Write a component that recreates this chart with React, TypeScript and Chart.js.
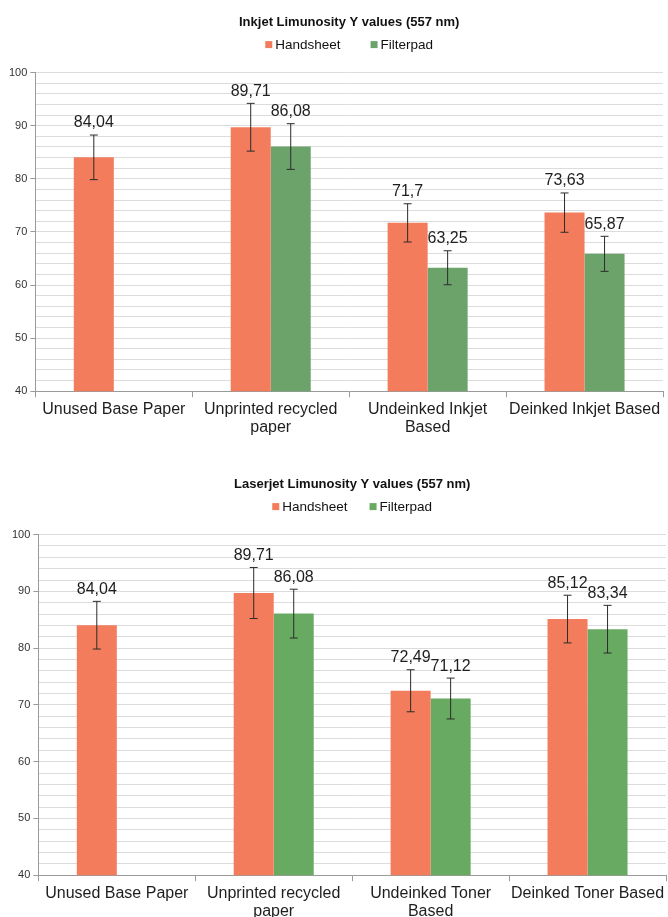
import React, { useEffect, useRef } from "react";
import { Chart, registerables } from "chart.js";

Chart.register(...registerables);

// ---- Inkjet series ----
const inkjetCategories = [
  "Unused Base Paper",
  ["Unprinted recycled", "paper"],
  ["Undeinked Inkjet", "Based"],
  "Deinked Inkjet Based",
];
const inkjetHandsheet = [84.04, 89.71, 71.7, 73.63];
const inkjetFilterpad = [null, 86.08, 63.25, 65.87];
const inkjetHandsheetErr = [4.2, 4.5, 3.6, 3.7];
const inkjetFilterpadErr = [null, 4.3, 3.2, 3.3];

// ---- Laserjet series ----
const laserCategories = [
  "Unused Base Paper",
  ["Unprinted recycled", "paper"],
  ["Undeinked Toner", "Based"],
  "Deinked Toner Based",
];
const laserHandsheet = [84.04, 89.71, 72.49, 85.12];
const laserFilterpad = [null, 86.08, 71.12, 83.34];
const laserHandsheetErr = [4.2, 4.5, 3.7, 4.2];
const laserFilterpadErr = [null, 4.3, 3.6, 4.2];

const seriesNames = ["Handsheet", "Filterpad"];
const yMin = 40;
const yMax = 100;
const yMinorStep = 2;
const yMajorStep = 10;

const ORANGE = "#F27C5C";
const FONT = "'Liberation Sans', Arial, sans-serif";

const fmt = (v: number) => String(v).replace(".", ",");

// Draws symmetric error bars and value labels above each bar
const errorBarPlugin = {
  id: "errorBarsAndLabels",
  afterDatasetsDraw(chart: any) {
    const { ctx } = chart;
    const yScale = chart.scales.y;
    chart.data.datasets.forEach((ds: any, i: number) => {
      const meta = chart.getDatasetMeta(i);
      if (meta.hidden) return;
      meta.data.forEach((bar: any, j: number) => {
        const v = ds.data[j];
        if (v == null) return;
        const e = ds.errors[j] ?? 0;
        const x = bar.x;
        const yTop = yScale.getPixelForValue(v + e);
        const yBot = yScale.getPixelForValue(v - e);
        ctx.save();
        ctx.strokeStyle = "#2b2b2b";
        ctx.lineWidth = 1;
        ctx.beginPath();
        ctx.moveTo(x, yTop);
        ctx.lineTo(x, yBot);
        ctx.moveTo(x - 4, yTop);
        ctx.lineTo(x + 4, yTop);
        ctx.moveTo(x - 4, yBot);
        ctx.lineTo(x + 4, yBot);
        ctx.stroke();
        ctx.fillStyle = "#1e1e1e";
        ctx.font = `16px ${FONT}`;
        ctx.textAlign = "center";
        ctx.textBaseline = "middle";
        ctx.fillText(fmt(v), x, yTop - 12);
        ctx.restore();
      });
    });
  },
};

// Legend row drawn between the title and the plot area
const seriesLegendPlugin = {
  id: "seriesLegend",
  afterDraw(chart: any, _args: any, opts: any) {
    const { ctx, chartArea } = chart;
    const box = 7;
    const textGap = 3;
    ctx.save();
    ctx.font = `13.5px ${FONT}`;
    ctx.textBaseline = "middle";
    ctx.textAlign = "left";
    const items = chart.data.datasets.map((ds: any) => ({
      label: ds.label,
      color: ds.backgroundColor,
      w: box + textGap + ctx.measureText(ds.label).width,
    }));
    const total =
      items.reduce((s: number, it: any) => s + it.w, 0) + opts.gap * (items.length - 1);
    let x = (chartArea.left + chartArea.right) / 2 - total / 2;
    const y = chartArea.top - opts.offset;
    items.forEach((it: any) => {
      ctx.fillStyle = it.color;
      ctx.fillRect(x, y - box / 2, box, box);
      ctx.fillStyle = "#111";
      ctx.fillText(it.label, x + box + textGap, y + 0.5);
      x += it.w + opts.gap;
    });
    ctx.restore();
  },
};

function makeConfig(
  title: string,
  categories: any[],
  hand: (number | null)[],
  filt: (number | null)[],
  handErr: (number | null)[],
  filtErr: (number | null)[],
  green: string,
  legendGap: number,
  pad: { left: number; right: number; bottom: number }
): any {
  return {
    type: "bar",
    data: {
      labels: categories,
      datasets: [
        {
          label: seriesNames[0],
          data: hand,
          errors: handErr,
          backgroundColor: ORANGE,
          borderWidth: 0,
          categoryPercentage: 0.51,
          barPercentage: 1,
        },
        {
          label: seriesNames[1],
          data: filt,
          errors: filtErr,
          backgroundColor: green,
          borderWidth: 0,
          categoryPercentage: 0.51,
          barPercentage: 1,
        },
      ],
    },
    options: {
      responsive: false,
      animation: false,
      layout: { padding: { top: 0, left: pad.left, right: pad.right, bottom: pad.bottom } },
      plugins: {
        title: {
          display: true,
          text: title,
          color: "#111",
          fullSize: false,
          font: { family: FONT, size: 13, weight: "bold" },
          padding: { top: 15, bottom: 42 },
        },
        legend: { display: false },
        seriesLegend: { gap: legendGap, offset: 28 },
        tooltip: { enabled: false },
      },
      scales: {
        x: {
          grid: {
            display: true,
            drawOnChartArea: false,
            drawTicks: true,
            tickLength: 6,
            tickColor: "#9a9a9a",
            offset: true,
          },
          border: { display: true, color: "#9a9a9a", width: 1 },
          ticks: {
            color: "#1e1e1e",
            font: { family: FONT, size: 16, lineHeight: 1.15 },
            maxRotation: 0,
            autoSkip: false,
            padding: 3,
          },
        },
        y: {
          min: yMin,
          max: yMax,
          grid: {
            color: "#dcdcdc",
            lineWidth: 1,
            drawTicks: true,
            tickLength: 5,
            tickColor: (c: any) =>
              c.tick && c.tick.value % yMajorStep === 0 ? "#9a9a9a" : "rgba(0,0,0,0)",
          },
          border: { display: true, color: "#9a9a9a", width: 1 },
          ticks: {
            stepSize: yMinorStep,
            color: "#333",
            font: { family: FONT, size: 11 },
            padding: 3,
            autoSkip: false,
            callback: (v: any) => (Number(v) % yMajorStep === 0 ? String(v) : ""),
          },
        },
      },
    },
    plugins: [errorBarPlugin, seriesLegendPlugin],
  };
}

function BarChart({ config, height }: { config: any; height: number }) {
  const ref = useRef<HTMLCanvasElement>(null);
  useEffect(() => {
    if (!ref.current) return;
    const chart = new Chart(ref.current, config);
    return () => chart.destroy();
  }, [config]);
  return (
    <canvas
      ref={ref}
      width={668}
      height={height}
      style={{ display: "block", width: 668, height }}
    />
  );
}

const inkjetConfig = makeConfig(
  "Inkjet Limunosity Y values (557 nm)",
  inkjetCategories,
  inkjetHandsheet,
  inkjetFilterpad,
  inkjetHandsheetErr,
  inkjetFilterpadErr,
  "#6CA36B",
  30,
  { left: 6, right: 5, bottom: 15 }
);

const laserConfig = makeConfig(
  "Laserjet Limunosity Y values (557 nm)",
  laserCategories,
  laserHandsheet,
  laserFilterpad,
  laserHandsheetErr,
  laserFilterpadErr,
  "#69AA63",
  22,
  { left: 9, right: 2, bottom: 8 }
);

export default function App() {
  return (
    <div
      style={{
        position: "absolute",
        left: 0,
        top: 0,
        width: 668,
        height: 917,
        background: "#fff",
        overflow: "hidden",
      }}
    >
      <div style={{ position: "absolute", left: 0, top: 0 }}>
        <BarChart config={inkjetConfig} height={455} />
      </div>
      <div style={{ position: "absolute", left: 0, top: 462 }}>
        <BarChart config={laserConfig} height={470} />
      </div>
    </div>
  );
}
